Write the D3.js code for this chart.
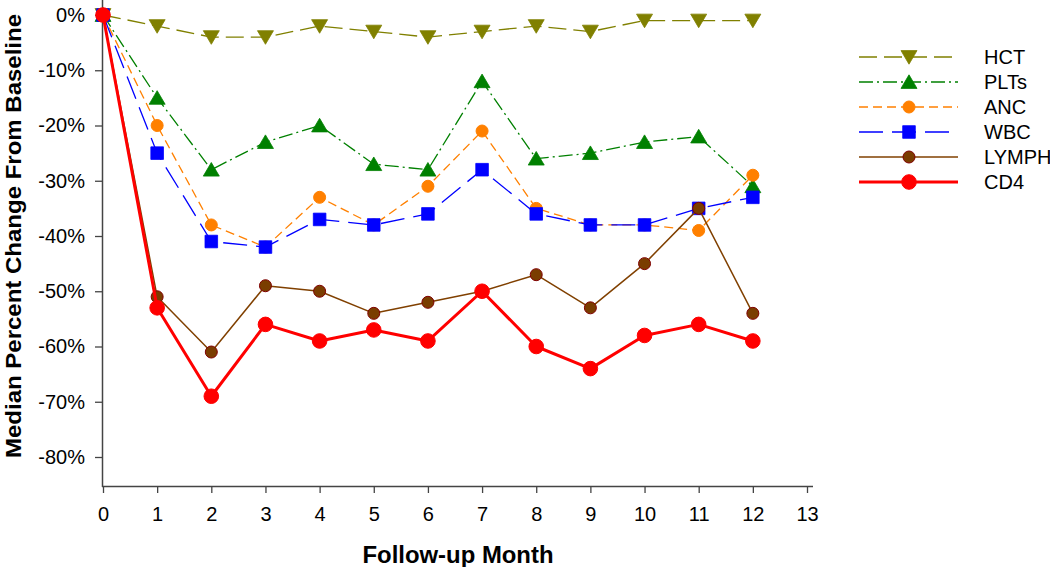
<!DOCTYPE html>
<html><head><meta charset="utf-8">
<script src="https://cdn.jsdelivr.net/npm/d3@7"></script>
<style>body{margin:0;background:#fff}svg{display:block}text{font-family:Arial,"Liberation Sans",sans-serif}</style>
</head><body>
<svg id="c" width="1050" height="567"></svg>
<script>
const months = [0,1,2,3,4,5,6,7,8,9,10,11,12];
const xTicks = [0,1,2,3,4,5,6,7,8,9,10,11,12,13];
const yTicks = [0,-10,-20,-30,-40,-50,-60,-70,-80];
const seriesNames = ["HCT","PLTs","ANC","WBC","LYMPH","CD4"];
const HCT   = [0,-2,-4,-4,-2,-3,-4,-3,-2,-3,-1,-1,-1];
const PLTs  = [0,-15,-28,-23,-20,-27,-28,-12,-26,-25,-23,-22,-31];
const ANC   = [0,-20,-38,-42,-33,-38,-31,-21,-35,-38,-38,-39,-29];
const WBC   = [0,-25,-41,-42,-37,-38,-36,-28,-36,-38,-38,-35,-33];
const LYMPH = [0,-51,-61,-49,-50,-54,-52,-50,-47,-53,-45,-35,-54];
const CD4   = [0,-53,-69,-56,-59,-57,-59,-50,-60,-64,-58,-56,-59];
const values = [HCT,PLTs,ANC,WBC,LYMPH,CD4];

const styles = [
  {color:"#808000", dash:"18,7", width:1.3, marker:"tdown", fill:"#808000", stroke:"#808000", size:8},
  {color:"#008000", dash:"14,4,2,4", width:1.3, marker:"tup", fill:"#008000", stroke:"#008000", size:8},
  {color:"#ff8000", dash:"9,5", width:1.3, marker:"circle", fill:"#ff8000", stroke:"#ff8000", size:6},
  {color:"#0000ff", dash:"24,9", width:1.3, marker:"square", fill:"#0000ff", stroke:"#0000ff", size:6.3},
  {color:"#804000", dash:null, width:1.5, marker:"circle", fill:"#7a3d00", stroke:"#800000", size:6},
  {color:"#ff0000", dash:null, width:3, marker:"circle", fill:"#ff0000", stroke:"#ff0000", size:7.3}
];

const svg = d3.select("#c");
const x = d3.scaleLinear().domain([0,13]).range([103,807]);
const y = d3.scaleLinear().domain([0,-80]).range([15,457]);

// axes
const xAxis = d3.axisBottom(x).tickValues(xTicks).tickSize(7).tickSizeOuter(0).tickFormat(d3.format("d"));
const gx = svg.append("g").attr("transform","translate(0,486)").call(xAxis);
gx.select(".domain").attr("d","M102,0.5H813").attr("stroke","#444").attr("stroke-width",1.5);
gx.selectAll(".tick line").attr("stroke","#444").attr("stroke-width",1.3);
gx.selectAll(".tick text").attr("font-size",20).attr("fill","#000").attr("y",35).attr("dy",null);

const yAxis = d3.axisLeft(y).tickValues(yTicks).tickSize(7).tickSizeOuter(0).tickFormat(d=>d+"%");
const gy = svg.append("g").attr("transform","translate(102,0)").call(yAxis);
gy.select(".domain").attr("d","M0.5,0V487").attr("stroke","#444").attr("stroke-width",1.5);
gy.selectAll(".tick line").attr("stroke","#444").attr("stroke-width",1.3);
gy.selectAll(".tick text").attr("font-size",20).attr("fill","#000").attr("x",-17);

svg.append("text").attr("x",458).attr("y",563).attr("text-anchor","middle")
  .attr("font-size",23).attr("font-weight","bold")
  .attr("textLength",191).attr("lengthAdjust","spacingAndGlyphs").text("Follow-up Month");
svg.append("text").attr("transform","translate(21,236) rotate(-90)").attr("text-anchor","middle")
  .attr("font-size",22).attr("font-weight","bold")
  .attr("textLength",444).attr("lengthAdjust","spacingAndGlyphs").text("Median Percent Change From Baseline");

function markerPath(type, s){
  if(type==="tdown") return `M${-s},${-s*0.8}L${s},${-s*0.8}L0,${s*0.9}Z`;
  if(type==="tup") return `M${-s},${s*0.8}L${s},${s*0.8}L0,${-s*0.9}Z`;
  if(type==="square") return `M${-s},${-s}H${s}V${s}H${-s}Z`;
  return null;
}
function drawMarker(g, st, cx, cy){
  if(st.marker==="circle"){
    g.append("circle").attr("cx",cx).attr("cy",cy).attr("r",st.size)
      .attr("fill",st.fill).attr("stroke",st.stroke).attr("stroke-width",1);
  } else {
    g.append("path").attr("d",markerPath(st.marker,st.size)).attr("transform",`translate(${cx},${cy})`)
      .attr("fill",st.fill).attr("stroke",st.stroke).attr("stroke-width",0.8);
  }
}

const line = d3.line().x((d,i)=>x(months[i])).y(d=>y(d));
values.forEach((vals,k)=>{
  const st = styles[k];
  const g = svg.append("g");
  g.append("path").datum(vals).attr("d",line).attr("fill","none")
    .attr("stroke",st.color).attr("stroke-width",st.width)
    .attr("stroke-dasharray",st.dash).attr("stroke-linejoin","round");
  vals.forEach((v,i)=>drawMarker(g, st, x(months[i]), y(v)));
});

// legend
seriesNames.forEach((name,k)=>{
  const st = styles[k];
  const ly = 57 + k*25;
  const g = svg.append("g");
  g.append("line").attr("x1",859).attr("x2",958).attr("y1",ly).attr("y2",ly)
    .attr("stroke",st.color).attr("stroke-width",st.width).attr("stroke-dasharray",st.dash);
  drawMarker(g, st, 909, ly);
  g.append("text").attr("x",984).attr("y",ly).attr("dy","0.36em").attr("font-size",20).text(name);
});
</script>
</body></html>
